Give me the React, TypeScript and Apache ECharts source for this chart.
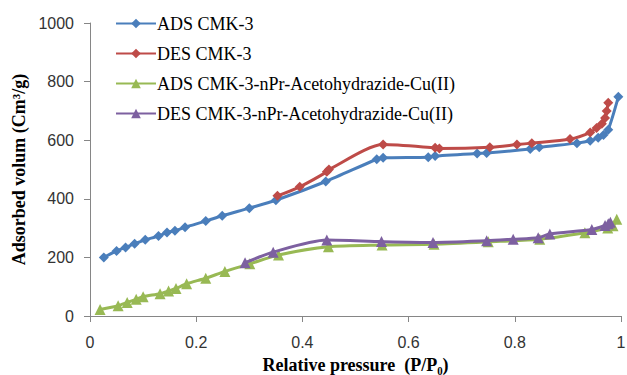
import React, { useEffect, useRef } from "react";
import * as echarts from "echarts";

const seriesNames = [
  "ADS CMK-3",
  "DES CMK-3",
  "ADS CMK-3-nPr-Acetohydrazide-Cu(II)",
  "DES CMK-3-nPr-Acetohydrazide-Cu(II)",
];

const adsCmkX = [0.026, 0.05, 0.067, 0.084, 0.104, 0.129, 0.145, 0.16, 0.179, 0.218, 0.249, 0.3, 0.35, 0.444, 0.54, 0.552, 0.637, 0.65, 0.729, 0.747, 0.829, 0.846, 0.917, 0.942, 0.957, 0.967, 0.976, 0.995];
const adsCmkY = [200, 222, 234, 247, 260, 273, 285, 291, 303, 324, 342, 368, 395, 459, 535, 540, 542, 546, 555, 556, 570, 576, 590, 598, 608, 618, 636, 748];

const desCmkX = [0.353, 0.395, 0.446, 0.45, 0.552, 0.65, 0.658, 0.753, 0.804, 0.832, 0.904, 0.942, 0.954, 0.964, 0.97, 0.973, 0.976];
const desCmkY = [410, 441, 492, 500, 585, 574, 572, 576, 585, 590, 604, 626, 642, 656, 676, 700, 728];

const adsCuX = [0.019, 0.053, 0.07, 0.087, 0.1, 0.132, 0.148, 0.162, 0.182, 0.218, 0.254, 0.301, 0.355, 0.449, 0.55, 0.648, 0.75, 0.847, 0.932, 0.975, 0.985, 0.992];
const adsCuY = [22, 35, 46, 57, 66, 76, 85, 94, 110, 129, 152, 178, 208, 236, 242, 245, 253, 262, 284, 300, 308, 330];

const desCuX = [0.292, 0.345, 0.446, 0.549, 0.646, 0.747, 0.797, 0.844, 0.866, 0.945, 0.97, 0.976, 0.98];
const desCuY = [182, 218, 259, 254, 251, 257, 262, 267, 280, 295, 309, 315, 320];

const xTicks = ["0", "0.2", "0.4", "0.6", "0.8", "1"];
const yTicks = ["0", "200", "400", "600", "800", "1000"];

const colors = ["#4A7EBB", "#BE4B48", "#98B954", "#7D60A0"];
const symbols = ["diamond", "diamond", "triangle", "triangle"];

function pairs(xs: number[], ys: number[]) {
  return xs.map((x, i) => [x, ys[i]]);
}

export default function App() {
  const ref = useRef<HTMLDivElement>(null);
  useEffect(() => {
    if (!ref.current) return;
    const chart = echarts.init(ref.current, undefined, { renderer: "svg" });
    const datasets = [
      pairs(adsCmkX, adsCmkY),
      pairs(desCmkX, desCmkY),
      pairs(adsCuX, adsCuY),
      pairs(desCuX, desCuY),
    ];
    chart.setOption({
      animation: false,
      backgroundColor: "#ffffff",
      grid: { left: 90, right: 6, top: 23, bottom: 59, containLabel: false, outerBoundsMode: "none" },
      legend: {
        orient: "vertical",
        left: 110,
        top: 9,
        itemWidth: 40,
        itemHeight: 12,
        itemGap: 11,
        data: seriesNames,
        textStyle: {
          fontFamily: "Liberation Serif",
          fontSize: 18,
          color: "#000",
          lineHeight: 19,
          padding: [0, 0, 0, -4],
        },
      },
      xAxis: {
        type: "value",
        min: 0,
        max: 1,
        interval: 0.2,
        name: "Relative pressure  (P/P\u2080)",
        nameLocation: "middle",
        nameGap: 40,
        nameTextStyle: {
          fontFamily: "Liberation Serif",
          fontWeight: "bold",
          fontSize: 18,
          color: "#000",
        },
        axisLine: { show: true, lineStyle: { color: "#868686", width: 1 } },
        axisTick: { show: true, inside: false, length: 6, lineStyle: { color: "#868686" } },
        splitLine: { show: false },
        axisLabel: {
          fontFamily: "Liberation Sans",
          fontSize: 16,
          color: "#333",
          margin: 18,
          formatter: (v: number) => xTicks[Math.round(v / 0.2)] ?? String(v),
        },
      },
      yAxis: {
        type: "value",
        min: 0,
        max: 1000,
        interval: 200,
        name: "Adsorbed volum (Cm\u00b3/g)",
        nameLocation: "middle",
        nameGap: 62,
        nameTextStyle: {
          fontFamily: "Liberation Serif",
          fontWeight: "bold",
          fontSize: 18,
          color: "#000",
        },
        axisLine: { show: true, lineStyle: { color: "#868686", width: 1 } },
        axisTick: { show: true, inside: false, length: 6, lineStyle: { color: "#868686" } },
        splitLine: { show: false },
        axisLabel: {
          fontFamily: "Liberation Sans",
          fontSize: 16,
          color: "#333",
          margin: 16,
          formatter: (v: number) => yTicks[Math.round(v / 200)] ?? String(v),
        },
      },
      series: seriesNames.map((name, i) => ({
        name,
        type: "line",
        data: datasets[i],
        smooth: 0.25,
        symbol: symbols[i],
        symbolSize: i < 2 ? 10 : 11,
        showSymbol: true,
        lineStyle: { color: colors[i], width: 3 },
        itemStyle: { color: colors[i] },
        z: 2 + i,
      })),
    });
    return () => chart.dispose();
  }, []);
  return <div ref={ref} style={{ width: 627, height: 375, position: "absolute", left: 0, top: 0 }} />;
}
